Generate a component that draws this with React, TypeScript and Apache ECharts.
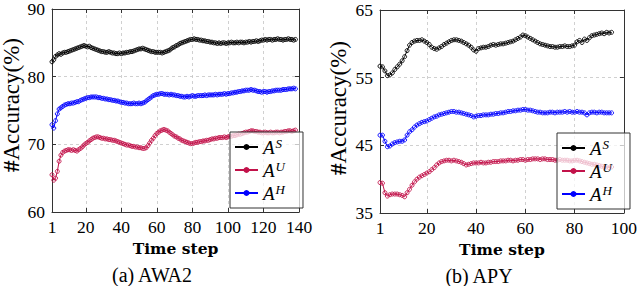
import React, { useEffect, useRef } from 'react';
import * as echarts from 'echarts';

// ---------- AWA2 (left) ----------
const awaS = [
  82.2, 82.5, 83.0, 83.2, 83.4, 83.3, 83.5, 83.6, 83.6, 83.7,
  83.8, 83.9, 84.0, 84.1, 84.2, 84.3, 84.4, 84.5, 84.6, 84.5,
  84.4, 84.5, 84.3, 84.2, 84.1, 84.0, 83.9, 83.8, 83.7, 83.7,
  83.6, 83.6, 83.7, 83.6, 83.5, 83.5, 83.4, 83.4, 83.5, 83.4,
  83.5, 83.5, 83.6, 83.6, 83.7, 83.7, 83.8, 83.9, 84.0, 84.1,
  84.1, 84.2, 84.1, 84.0, 83.9, 83.8, 83.7, 83.7, 83.6, 83.6,
  83.6, 83.6, 83.5, 83.6, 83.7, 83.8, 83.9, 84.1, 84.3, 84.4,
  84.6, 84.7, 84.9, 85.0, 85.1, 85.2, 85.3, 85.4, 85.5, 85.5,
  85.6, 85.5, 85.5, 85.4, 85.4, 85.3, 85.3, 85.2, 85.2, 85.1,
  85.1, 85.0, 85.0, 84.9, 85.0, 84.9, 85.0, 85.0, 84.9, 85.0,
  85.0, 85.1, 85.0, 85.0, 85.1, 85.0, 85.1, 85.1, 85.0, 85.1,
  85.1, 85.2, 85.1, 85.2, 85.2, 85.3, 85.2, 85.3, 85.4, 85.4,
  85.5, 85.4, 85.5, 85.5, 85.4, 85.5, 85.5, 85.6, 85.5, 85.5,
  85.4, 85.5, 85.5, 85.6, 85.5, 85.5, 85.4, 85.5,
];
const awaU = [
  65.5, 64.7, 65.0, 66.0, 67.5, 68.4, 68.8, 69.0, 69.1, 69.2,
  69.2, 69.1, 69.2, 69.1, 69.0, 69.2, 69.4, 69.6, 69.9, 70.1,
  70.3, 70.5, 70.7, 70.9, 71.0, 71.1, 71.1, 71.0, 70.9, 70.9,
  70.8, 70.8, 70.7, 70.7, 70.6, 70.6, 70.5, 70.4, 70.3, 70.2,
  70.1, 70.0, 69.9, 69.9, 69.8, 69.7, 69.7, 69.6, 69.6, 69.5,
  69.5, 69.4, 69.4, 69.5, 69.8, 70.2, 70.6, 70.9, 71.3, 71.6,
  71.8, 72.0, 72.1, 72.2, 72.1, 72.0, 71.8, 71.6, 71.4, 71.2,
  71.1, 70.9, 70.8, 70.6, 70.5, 70.4, 70.3, 70.2, 70.1, 70.1,
  70.2, 70.3, 70.3, 70.4, 70.4, 70.5, 70.5, 70.6, 70.6, 70.7,
  70.8, 70.8, 70.9, 70.9, 71.0, 71.0, 71.0, 71.1, 71.0, 71.1,
  71.2, 71.2, 71.3, 71.3, 71.4, 71.5, 71.5, 71.6, 71.7, 71.8,
  71.8, 71.9, 72.0, 72.0, 71.9, 71.9, 71.8, 71.8, 71.7, 71.7,
  71.8, 71.7, 71.7, 71.8, 71.7, 71.7, 71.8, 71.8, 71.7, 71.8,
  71.8, 71.9, 71.9, 72.0, 72.0, 71.9, 72.0, 72.1,
];
const awaH = [
  72.9, 72.4, 73.5, 74.5, 75.2, 75.4, 75.6, 75.8, 75.9, 76.0,
  76.0, 76.1, 76.1, 76.2, 76.3, 76.3, 76.5, 76.6, 76.7, 76.8,
  76.9, 76.9, 77.0, 77.0, 77.0, 77.0, 76.9, 76.9, 76.8, 76.8,
  76.7, 76.7, 76.6, 76.6, 76.5, 76.5, 76.4, 76.4, 76.3, 76.2,
  76.2, 76.1, 76.1, 76.0, 76.0, 76.0, 76.1, 76.0, 76.0, 76.1,
  76.0, 76.1, 76.2, 76.4, 76.6, 76.8, 77.0, 77.2, 77.3, 77.4,
  77.4, 77.5, 77.5, 77.4, 77.4, 77.4, 77.3, 77.4, 77.3, 77.3,
  77.2, 77.2, 77.1, 77.1, 77.0, 77.0, 77.1, 77.0, 77.1, 77.2,
  77.1, 77.1, 77.2, 77.2, 77.2, 77.2, 77.3, 77.2, 77.3, 77.3,
  77.3, 77.3, 77.4, 77.3, 77.4, 77.4, 77.4, 77.5, 77.4, 77.5,
  77.5, 77.6, 77.6, 77.7, 77.7, 77.8, 77.8, 77.9, 77.9, 78.0,
  78.0, 78.0, 78.1, 78.0, 78.0, 77.9, 77.8, 77.8, 77.7, 77.8,
  77.8, 77.7, 77.8, 77.8, 77.9, 77.9, 78.0, 78.0, 78.0, 78.0,
  78.1, 78.1, 78.1, 78.2, 78.2, 78.2, 78.3, 78.2,
];

// ---------- APY (right) ----------
const apyS = [
  56.7, 56.6, 56.0, 55.3, 55.4, 55.7, 56.2, 56.6, 57.0, 57.5,
  58.1, 59.0, 59.8, 60.2, 60.4, 60.5, 60.5, 60.6, 60.4, 60.2,
  59.9, 59.5, 59.3, 59.2, 59.4, 59.6, 59.9, 60.1, 60.3, 60.5,
  60.6, 60.6, 60.5, 60.4, 60.2, 60.0, 59.8, 59.5, 59.1, 58.9,
  59.3, 59.4, 59.5, 59.5, 59.6, 59.8, 59.9, 59.8, 59.9, 60.0,
  60.0, 60.1, 60.2, 60.3, 60.4, 60.6, 60.8, 61.0, 61.3, 61.2,
  61.0, 60.8, 60.6, 60.4, 60.2, 60.0, 59.9, 59.8, 59.7, 59.6,
  59.6, 59.5, 59.5, 59.6, 59.6, 59.7, 59.6, 59.6, 59.7, 59.8,
  60.3, 60.5, 60.2, 60.7, 60.5, 60.9, 61.2, 61.3, 61.4, 61.5,
  61.6, 61.5, 61.7, 61.6, 61.7,
];
const apyU = [
  39.5, 39.4, 38.0, 37.5, 37.7, 37.8, 37.8, 37.8, 37.7, 37.6,
  37.4, 38.0, 38.5, 39.1, 39.6, 40.0, 40.3, 40.5, 40.7, 40.9,
  41.1, 41.4, 41.7, 42.1, 42.4, 42.6, 42.7, 42.8, 42.8, 42.7,
  42.8, 42.7, 42.6, 42.5, 42.3, 42.1, 42.2, 42.3, 42.4, 42.4,
  42.4, 42.5, 42.4, 42.4, 42.5, 42.5, 42.6, 42.6, 42.6, 42.7,
  42.7, 42.7, 42.8, 42.8, 42.7, 42.8, 42.8, 42.9, 42.9, 42.8,
  42.9, 42.9, 43.0, 43.0, 43.0, 42.9, 43.0, 43.0, 42.9, 42.9,
  42.9, 42.8, 42.8, 42.9, 42.8, 42.8, 42.8, 42.7, 42.7, 42.8,
  42.8, 42.7, 42.6, 42.5, 42.4, 42.3, 42.2, 42.2, 42.1, 42.0,
  41.9, 41.8, 41.8, 41.7, 41.8,
];
const apyH = [
  46.5, 46.5, 45.6, 44.8, 44.9, 45.2, 45.4, 45.5, 45.6, 45.6,
  45.8, 46.5, 47.0, 47.3, 47.7, 48.0, 48.2, 48.4, 48.5, 48.6,
  48.8, 49.0, 49.2, 49.3, 49.5, 49.6, 49.7, 49.8, 49.9, 50.0,
  50.0, 49.9, 49.9, 49.8, 49.7, 49.6, 49.5, 49.4, 49.2, 49.3,
  49.4, 49.4, 49.5, 49.5, 49.5, 49.6, 49.6, 49.7, 49.7, 49.8,
  49.8, 49.9, 50.0, 50.0, 50.1, 50.1, 50.2, 50.2, 50.3, 50.3,
  50.2, 50.2, 50.1, 50.0, 49.9, 49.9, 49.8, 49.8, 49.8, 49.9,
  49.9, 49.8, 49.9, 49.9, 49.9, 50.0, 49.9, 50.0, 49.9, 49.9,
  50.0, 49.9, 49.9, 49.8, 49.5, 49.8, 49.9, 49.9, 49.8, 49.9,
  49.9, 49.8, 49.8, 49.8, 49.8,
];

const awaXTicks = [1, 20, 40, 60, 80, 100, 120, 140];
const apyXTicks = [1, 20, 40, 60, 80, 100];
const seriesNames = ['S', 'U', 'H'];
const colors: Record<string, string> = { S: '#000000', U: '#c2124a', H: '#0000ff' };
const captions = ['(a) AWA2', '(b) APY'];
const yLabel = '#Accuracy(%)';
const xLabel = 'Time step';

const SERIF = '"Liberation Serif", serif';
const DJSERIF = '"DejaVu Serif", serif';
const FRAME = '#333333';

const toPairs = (vals: number[]) => vals.map((v, i) => [i + 1, v]);

function mkX(grid: number, min: number, max: number, ticks: number[]) {
  return [
    {
      gridIndex: grid, type: 'value', min, max, position: 'bottom',
      axisLine: { show: true, lineStyle: { color: FRAME, width: 1 } },
      axisTick: { show: true, inside: true, length: 4, customValues: ticks, lineStyle: { color: FRAME } },
      axisLabel: { customValues: ticks, color: '#000', fontFamily: SERIF, fontSize: 17.5, margin: 6 },
      splitLine: { show: true, lineStyle: { color: '#c4c4c4', type: [3, 3], width: 0.8 } },
      name: xLabel, nameLocation: 'middle', nameGap: 25,
      nameTextStyle: { fontFamily: DJSERIF, fontWeight: 'bold', fontSize: 15.5, color: '#000' },
    },
    {
      gridIndex: grid, type: 'value', min, max, position: 'top',
      axisLine: { show: true, lineStyle: { color: FRAME, width: 1 } },
      axisTick: { show: true, inside: true, length: 4, customValues: ticks, lineStyle: { color: FRAME } },
      axisLabel: { show: false },
      splitLine: { show: false },
    },
  ];
}

function mkY(grid: number, min: number, max: number) {
  return [
    {
      gridIndex: grid, type: 'value', min, max, interval: 10, position: 'left',
      axisLine: { show: true, lineStyle: { color: FRAME, width: 1 } },
      axisTick: { show: true, inside: true, length: 4, lineStyle: { color: FRAME } },
      axisLabel: { color: '#000', fontFamily: SERIF, fontSize: 17.5, margin: 7 },
      splitLine: { show: true, lineStyle: { color: '#c4c4c4', type: [3, 3], width: 0.8 } },
    },
    {
      gridIndex: grid, type: 'value', min, max, interval: 10, position: 'right',
      axisLine: { show: true, lineStyle: { color: FRAME, width: 1 } },
      axisTick: { show: true, inside: true, length: 4, lineStyle: { color: FRAME } },
      axisLabel: { show: false },
      splitLine: { show: false },
    },
  ];
}

function mkSeries(name: string, vals: number[], axisIdx: number) {
  const c = colors[name];
  return {
    name, type: 'line', xAxisIndex: axisIdx, yAxisIndex: axisIdx,
    data: toPairs(vals),
    symbol: 'circle', symbolSize: 4, showSymbol: true,
    color: c,
    lineStyle: { color: c, width: 1 },
    itemStyle: { color: 'rgba(255,255,255,0)', borderColor: c, borderWidth: 0.9 },
    emphasis: { disabled: true },
    z: name === 'U' ? 2 : 3,
  };
}

function mkLegend(left: number, top: number) {
  return {
    orient: 'vertical', left, top,
    data: seriesNames,
    itemWidth: 23, itemHeight: 5, itemGap: 3,
    padding: [5, 18, 5, 4],
    backgroundColor: 'rgba(255,255,255,0.72)',
    borderColor: FRAME, borderWidth: 1, borderRadius: 0,
    selectedMode: false,
    formatter: (n: string) => `{a|A}{b|${n}}`,
    textStyle: {
      rich: {
        a: { fontFamily: SERIF, fontStyle: 'italic', fontSize: 19, lineHeight: 20, color: '#000', verticalAlign: 'bottom' },
        b: { fontFamily: SERIF, fontStyle: 'italic', fontSize: 13, lineHeight: 20, color: '#000', verticalAlign: 'top', padding: [0, 0, 0, 1] },
      },
    },
  };
}

function textEl(text: string, x: number, y: number, rot: number, rich?: any) {
  return {
    type: 'text', x, y, rotation: rot,
    style: {
      text, fill: '#000', fontFamily: SERIF, fontSize: 20,
      align: 'center', verticalAlign: 'middle',
      textAlign: 'center', textVerticalAlign: 'middle',
      rich,
    },
  };
}

export default function App() {
  const ref = useRef<HTMLDivElement>(null);
  useEffect(() => {
    if (!ref.current) return;
    const chart = echarts.init(ref.current, undefined, { renderer: 'svg' });
    const yRich = {
      h: { fontFamily: SERIF, fontWeight: 'bold', fontSize: 23, fill: '#000', color: '#000' },
      r: { fontFamily: SERIF, fontSize: 23, fill: '#000', color: '#000' },
    };
    const yText = `{h|${yLabel.slice(0, 1)}}{r|${yLabel.slice(1)}}`;
    chart.setOption({
      animation: false,
      backgroundColor: '#ffffff',
      grid: [
        { left: 52, top: 8, width: 247, height: 204 },
        { left: 380, top: 10, width: 244, height: 203 },
      ],
      xAxis: [...mkX(0, 1, 140, awaXTicks), ...mkX(1, 1, 100, apyXTicks)],
      yAxis: [...mkY(0, 60, 90), ...mkY(1, 35, 65)],
      legend: [mkLegend(230, 132), mkLegend(557, 133)],
      series: [
        mkSeries('S', awaS, 0), mkSeries('U', awaU, 0), mkSeries('H', awaH, 0),
        mkSeries('S', apyS, 2), mkSeries('U', apyU, 2), mkSeries('H', apyH, 2),
      ],
      graphic: [
        textEl(yText, 11, 105, Math.PI / 2, yRich),
        textEl(yText, 338, 108, Math.PI / 2, yRich),
        textEl(captions[0], 152, 275, 0),
        textEl(captions[1], 479, 276, 0),
      ],
    });
    return () => chart.dispose();
  }, []);
  return <div ref={ref} style={{ position: 'fixed', left: 0, top: 0, width: 640, height: 286 }} />;
}
